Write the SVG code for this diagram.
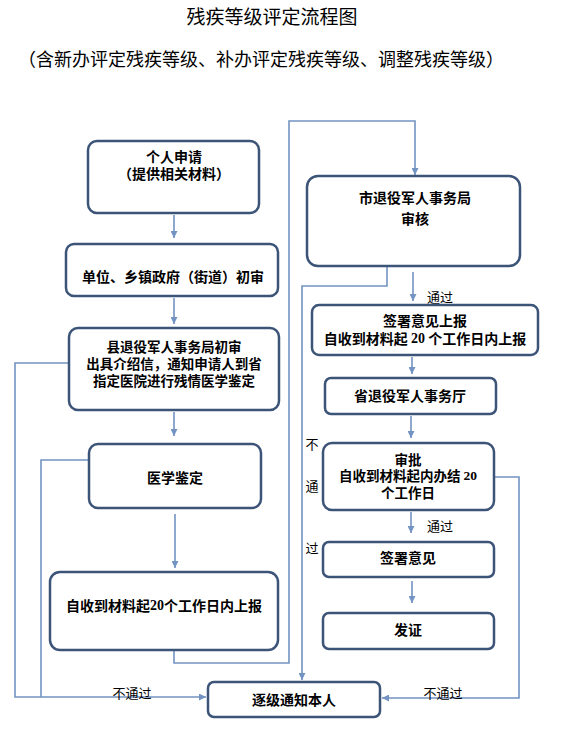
<svg xmlns="http://www.w3.org/2000/svg" width="570" height="735" viewBox="0 0 570 735">
<style>
.box{fill:#fff;stroke:#3C5478;stroke-width:2.5}
.t{font-family:"Noto Sans CJK SC","Liberation Serif",serif;font-weight:bold;font-size:14px;fill:#000;text-anchor:middle;dominant-baseline:central}
.s{font-size:13.5px}
.lbl{font-family:"Noto Sans CJK SC","Liberation Sans",sans-serif;font-size:13px;fill:#000;text-anchor:middle;dominant-baseline:central}
.title{font-family:"Noto Sans CJK SC",sans-serif;fill:#000;text-anchor:middle;dominant-baseline:central}
.c{fill:none;stroke:#7393C2;stroke-width:1.6}
</style>
<defs>
<marker id="ah" viewBox="0 0 10 10" refX="10" refY="5" markerWidth="7" markerHeight="7" markerUnits="userSpaceOnUse" orient="auto">
<path d="M0,0 L10,5 L0,10 z" fill="#7393C2"/>
</marker>
</defs>
<rect width="570" height="735" fill="#fff"/>
<text class="title" x="272" y="15" font-size="19">残疾等级评定流程图</text>
<text class="title" x="261" y="58" font-size="18">（含新办评定残疾等级、补办评定残疾等级、调整残疾等级）</text>

<g id="connectors">
<line class="c" x1="174" y1="215" x2="174" y2="238" marker-end="url(#ah)"/>
<line class="c" x1="174" y1="298" x2="174" y2="324" marker-end="url(#ah)"/>
<line class="c" x1="174" y1="412" x2="174" y2="436" marker-end="url(#ah)"/>
<line class="c" x1="175" y1="514" x2="175" y2="568" marker-end="url(#ah)"/>
<polyline class="c" points="69,363 15,363 15,697 206,697" marker-end="url(#ah)"/>
<polyline class="c" points="89,460 41,460 41,697"/>
<polyline class="c" points="174,651 174,663 289,663 289,121 415,121 415,175" marker-end="url(#ah)"/>
<polyline class="c" points="387,267 387,286 302,286 302,680" marker-end="url(#ah)"/>
<line class="c" x1="413" y1="272" x2="413" y2="301" marker-end="url(#ah)"/>
<line class="c" x1="412" y1="357" x2="412" y2="374" marker-end="url(#ah)"/>
<line class="c" x1="411" y1="416" x2="411" y2="438" marker-end="url(#ah)"/>
<line class="c" x1="411" y1="512" x2="411" y2="533" marker-end="url(#ah)"/>
<line class="c" x1="412" y1="581" x2="412" y2="603" marker-end="url(#ah)"/>
<polyline class="c" points="495,477 519,477 519,698 382,698" marker-end="url(#ah)"/>
<text class="lbl" x="132" y="692">不通过</text>
<text class="lbl" x="443" y="692">不通过</text>
<text class="lbl" x="440" y="296">通过</text>
<text class="lbl" x="440" y="525">通过</text>
<text class="lbl" x="312" y="443">不</text>
<text class="lbl" x="312" y="485">通</text>
<text class="lbl" x="312" y="547">过</text>
</g>

<g id="n1">
<rect class="box" x="88" y="141" width="171" height="72" rx="9"/>
<text class="t"><tspan x="174" y="156">个人申请</tspan><tspan x="174" y="173">（提供相关材料）</tspan></text>
</g>
<g id="n2">
<rect class="box" x="66" y="244" width="212" height="52" rx="8"/>
<text class="t" x="173" y="276">单位、乡镇政府（街道）初审</text>
</g>
<g id="n3">
<rect class="box" x="69" y="328" width="210" height="82" rx="9"/>
<text class="t s"><tspan x="174" y="346">县退役军人事务局初审</tspan><tspan x="174" y="363">出具介绍信，通知申请人到省</tspan><tspan x="174" y="380">指定医院进行残情医学鉴定</tspan></text>
</g>
<g id="n4">
<rect class="box" x="89" y="444" width="172" height="64" rx="9"/>
<text class="t" x="175" y="477">医学鉴定</text>
</g>
<g id="n5">
<rect class="box" x="50" y="572" width="228" height="78" rx="10"/>
<text class="t" x="164" y="605">自收到材料起<tspan font-family="Liberation Serif">20</tspan>个工作日内上报</text>
</g>
<g id="n6">
<rect class="box" x="307" y="176" width="213" height="90" rx="11"/>
<text class="t"><tspan x="415" y="197">市退役军人事务局</tspan><tspan x="415" y="218">审核</tspan></text>
</g>
<g id="n7">
<rect class="box" x="312" y="305" width="226" height="50" rx="7"/>
<text class="t"><tspan x="425" y="320">签署意见上报</tspan><tspan x="425" y="338">自收到材料起 <tspan font-family="Liberation Serif">20</tspan> 个工作日内上报</tspan></text>
</g>
<g id="n8">
<rect class="box" x="325" y="378" width="171" height="36" rx="6"/>
<text class="t" x="410" y="395">省退役军人事务厅</text>
</g>
<g id="n9">
<rect class="box" x="323" y="443" width="171" height="67" rx="9"/>
<text class="t s"><tspan x="408" y="459">审批</tspan><tspan x="408" y="475">自收到材料起内办结 <tspan font-family="Liberation Serif">20</tspan></tspan><tspan x="408" y="492">个工作日</tspan></text>
</g>
<g id="n10">
<rect class="box" x="323" y="542" width="171" height="35" rx="6"/>
<text class="t" x="408" y="557">签署意见</text>
</g>
<g id="n11">
<rect class="box" x="323" y="613" width="171" height="36" rx="6"/>
<text class="t" x="408" y="629">发证</text>
</g>
<g id="n12">
<rect class="box" x="208" y="682" width="172" height="35" rx="6"/>
<text class="t" x="294" y="699">逐级通知本人</text>
</g>
</svg>
